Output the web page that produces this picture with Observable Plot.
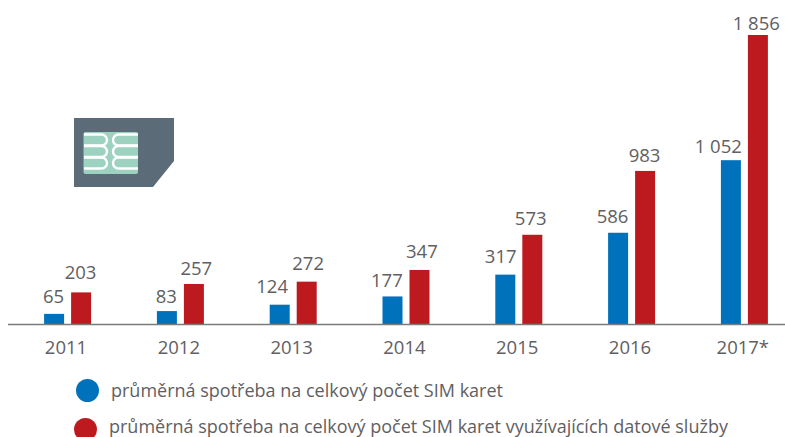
<!DOCTYPE html>
<html lang="cs">
<head>
<meta charset="utf-8">
<script src="https://cdn.jsdelivr.net/npm/d3@7"></script>
<script src="https://cdn.jsdelivr.net/npm/@observablehq/plot@0.6"></script>
<style>
html,body{margin:0;padding:0;background:#fff;overflow:hidden;width:785px;height:437px}
#wrap{position:relative;width:785px;height:437px;font-family:"Open Sans",sans-serif;color:#5f6062}
#chart svg{display:block;position:absolute;left:0;top:0}
.lg{position:absolute;white-space:nowrap;font-size:18px;line-height:18px}
.dot{position:absolute;border-radius:50%;width:23px;height:23px}
</style>
</head>
<body>
<div id="wrap">
  <div id="chart"></div>
  <div class="dot" style="left:75.5px;top:379px;background:#0072bc"></div>
  <div class="lg" id="lg1" style="left:111px;top:381px"></div>
  <div class="dot" style="left:74px;top:418px;background:#bd1a20"></div>
  <div class="lg" id="lg2" style="left:109px;top:416.5px"></div>
</div>
<script>
const years = ["2011","2012","2013","2014","2015","2016","2017*"];
const allSims = [65,83,124,177,317,586,1052];
const dataSims = [203,257,272,347,573,983,1856];
const seriesNames = ["průměrná spotřeba na celkový počet SIM karet","průměrná spotřeba na celkový počet SIM karet využívajících datové služby"];
const blue = "#0072bc", red = "#bd1a20", ink = "#5f6062";

// hand placement of the value labels, as in the original artwork
const blueNudge = [[-1,-11],[-1,-9],[-8,-12],[-6,-10],[-5,-12],[-6,-10],[-13,-8]];
const redNudge = [[-1,-14],[2,-9],[1,-12],[2,-12],[-2,-10],[-1,-9],[-2,-6]];

const fmt = v => d3.format(",")(v).replace(/,/g, "\u00a0");
const rows = s => years.map((y,i)=>({year:y,value:s[i]}));
const labelMarks = (s,nudge,offset) => s.map((v,i)=>Plot.text([{year:years[i],value:v}],{
  x:"year",y:"value",text:d=>fmt(d.value),lineAnchor:"bottom",
  dx:offset+nudge[i][0],dy:nudge[i][1],fontSize:18.5,fill:ink
}));

function simIcon(){
  const g = d3.create("svg:g");
  g.append("path").attr("d","M74,118H174V161L153,187H74Z").attr("fill","#5c6b78");
  g.append("rect").attr("x",83.5).attr("y",132).attr("width",54.5).attr("height",42).attr("rx",2).attr("fill","#9dd1c0");
  [134.5,146,157.5].forEach(y=>{
    g.append("path").attr("d",`M84,${y}H101.5a5.5,5.5 0 0 1 0,11H84`).attr("fill","none").attr("stroke","#fff").attr("stroke-width",2.4);
    g.append("path").attr("d",`M138,${y}H118.5a5.5,5.5 0 0 0 0,11H138`).attr("fill","none").attr("stroke","#fff").attr("stroke-width",2.4);
  });
  return g.node();
}

const chart = Plot.plot({
  width:785,height:365,marginTop:35,marginBottom:41,marginLeft:8,marginRight:0,
  style:{fontFamily:'"Open Sans",sans-serif',background:"transparent",overflow:"visible"},
  x:{type:"band",domain:years,range:[11.1,800.7],padding:0,round:false},
  y:{domain:[0,1856],axis:null},
  marks:[
    Plot.barY(rows(allSims),{x:"year",y:"value",fill:blue,insetLeft:33,insetRight:59.8}),
    Plot.barY(rows(dataSims),{x:"year",y:"value",fill:red,insetLeft:60,insetRight:32.8}),
    Plot.ruleY([0],{stroke:"#7b7b7b",strokeWidth:1.6}),
    Plot.axisX({anchor:"bottom",tickSize:0,tickPadding:16,fontSize:18.5,color:ink,label:null,dx:-2}),
    ...labelMarks(allSims,blueNudge,-13.5),
    ...labelMarks(dataSims,redNudge,13.5),
    simIcon
  ]
});
document.getElementById("chart").append(chart);
document.getElementById("lg1").textContent = seriesNames[0];
document.getElementById("lg2").textContent = seriesNames[1];
</script>
</body>
</html>
